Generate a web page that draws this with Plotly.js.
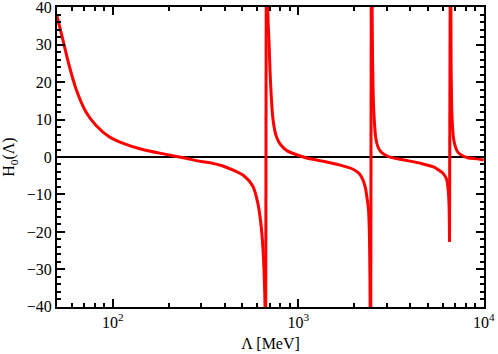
<!DOCTYPE html>
<html>
<head>
<meta charset="utf-8">
<script src="https://cdn.plot.ly/plotly-3.0.1.min.js"></script>
<style>
  html, body { margin: 0; padding: 0; background: #fff; }
  #grafico { width: 498px; height: 354px; }
</style>
</head>
<body>
<div id="grafico"></div>
<script>
// Valores: Lambda [MeV] y H0(Lambda), una rama entre cada polo
const rama1Lambda = [50, 53.6, 58.1, 63.2, 71.5, 81.0, 95.5, 112.8, 144.6, 193.1, 247.5, 298.1, 346.0, 391.7, 449.0, 508.5, 568.6, 604.9, 627.9, 643.6, 654.1, 661.5, 666.4];
const rama1H = [37.6, 31.6, 24.5, 18.3, 12.1, 8.5, 5.4, 3.7, 2.0, 0.7, -0.35, -1.2, -1.7, -2.4, -3.6, -5.0, -7.8, -12.3, -17.7, -23.9, -31, -40, -60];

const rama2Lambda = [673.0, 680.6, 687.4, 696.0, 703.8, 710.8, 726.0, 740.5, 756.3, 785.0, 821.9, 867.0, 930.5, 1097.6, 1350.7, 1659.5, 1960.1, 2127.4, 2199.9, 2263.6, 2311.8, 2340.7, 2390.6, 2420.4, 2438.5, 2453.7];
const rama2H = [80, 45, 36, 30, 23, 18.3, 11.2, 8, 5.9, 4, 2.7, 1.7, 1.0, -0.2, -1.1, -2.1, -3.2, -4.4, -5.5, -7.0, -8.8, -10.6, -14.1, -22.1, -40, -70];

const rama3Lambda = [2478.2, 2499.8, 2511.9, 2527.5, 2543.2, 2578.2, 2616.9, 2682.7, 2784.4, 2926.2, 3152.4, 3718.5, 4575.3, 5396.0, 5719.9, 5988.8, 6162.3, 6317.2, 6396.1, 6451.9, 6500.2, 6532.5];
const rama3H = [80, 40, 27.2, 19, 13.9, 8.5, 5.0, 2.8, 1.4, 0.6, -0.1, -0.8, -1.7, -2.7, -3.5, -4.2, -5.0, -6.1, -7.8, -9.7, -13.2, -22.6];

const rama4Lambda = [6606.0, 6663.6, 6705.2, 6763.6, 6865.1, 7020.2, 7214.5, 7516.2, 8167.9, 9247.0, 10000];
const rama4H = [70, 25, 14, 9, 5.0, 2.8, 1.4, 0.6, -0.2, -0.5, -0.8];

const ticksX = [100, 1000, 10000];
const etiquetasX = ['10<sup>2</sup>', '10<sup>3</sup>', '10<sup>4</sup>'];

const fuente = { family: "'Liberation Serif', serif", size: 16, color: '#000' };

// cada rama es su propia traza suavizada; los saltos en los polos son líneas rectas
const ramas = [
    [rama1Lambda, rama1H],
    [rama2Lambda, rama2H],
    [rama3Lambda, rama3H],
    [rama4Lambda, rama4H]
];

var trazas = ramas.map(r => ({
    x: r[0],
    y: r[1],
    mode: 'lines',
    type: 'scatter',
    line: { color: '#ff0000', width: 3, shape: 'spline', smoothing: 0.8 },
    hoverinfo: 'skip'
}));

// uniones verticales entre el último punto de una rama y el primero de la siguiente
for (let i = 0; i < ramas.length - 1; i++) {
    const a = ramas[i], b = ramas[i + 1];
    trazas.push({
        x: [a[0][a[0].length - 1], b[0][0]],
        y: [a[1][a[1].length - 1], b[1][0]],
        mode: 'lines',
        type: 'scatter',
        line: { color: '#ff0000', width: 3 },
        hoverinfo: 'skip'
    });
}

var layout = {
    width: 498,
    height: 354,
    margin: { l: 57, r: 14, t: 7, b: 47 },
    paper_bgcolor: '#fff',
    plot_bgcolor: '#fff',
    showlegend: false,
    font: fuente,
    xaxis: {
        type: 'log',
        range: [Math.log10(50), 4.001],
        tickmode: 'array',
        tickvals: ticksX,
        ticktext: etiquetasX,
        showline: true,
        linecolor: '#000',
        linewidth: 2,
        mirror: 'allticks',
        ticks: 'inside',
        ticklen: 8,
        tickwidth: 2,
        tickcolor: '#000',
        showgrid: false,
        tickfont: fuente,
        zeroline: false,
        minor: { dtick: 'D1', ticks: 'inside', ticklen: 4, tickwidth: 2, tickcolor: '#000' },
        title: { text: 'Λ [MeV]', font: fuente, standoff: 8 }
    },
    yaxis: {
        range: [-40.05, 40.05],
        dtick: 10,
        showline: true,
        linecolor: '#000',
        linewidth: 2,
        mirror: 'allticks',
        ticks: 'inside',
        ticklen: 8,
        tickwidth: 2,
        tickcolor: '#000',
        showgrid: false,
        tickfont: fuente,
        ticklabeloverflow: 'allow',
        zeroline: true,
        zerolinecolor: '#000',
        zerolinewidth: 2,
        minor: { dtick: 2, ticks: 'inside', ticklen: 4, tickwidth: 2, tickcolor: '#000' },
        title: { text: 'H<sub>0</sub>(Λ)', font: fuente, standoff: 8 }
    }
};

Plotly.newPlot('grafico', trazas, layout, { displayModeBar: false });
</script>
</body>
</html>
